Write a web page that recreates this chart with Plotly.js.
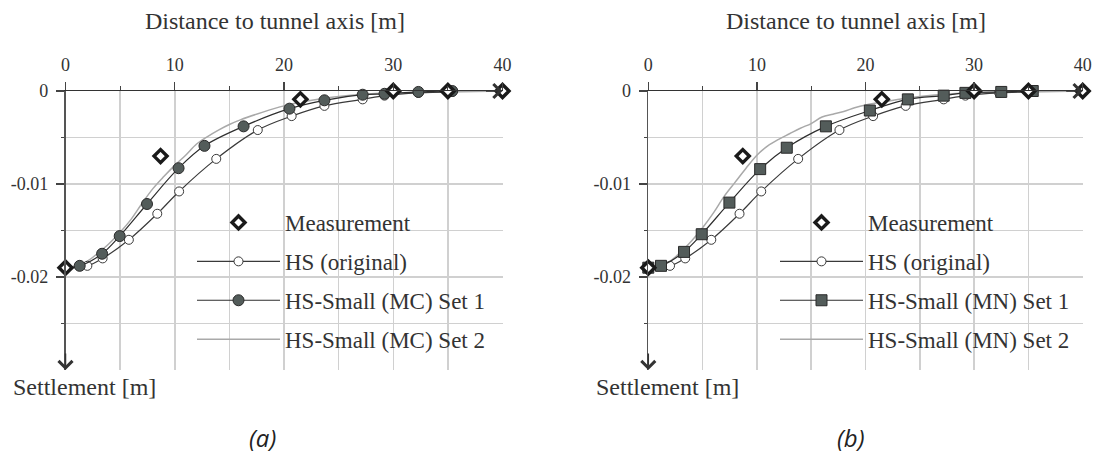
<!DOCTYPE html>
<html><head><meta charset="utf-8">
<script src="https://cdn.plot.ly/plotly-3.0.1.min.js"></script>
<style>body{margin:0;background:#fff}#chart{width:1097px;height:453px}</style>
</head><body><div id="chart"></div>
<script>
// ---------- data ----------
const measX = [0, 8.7, 21.5, 30, 35, 40];
const measY = [-0.0190, -0.0070, -0.0009, 0, 0, 0];

const hsX = [0, 2.0, 3.4, 5.8, 8.4, 10.4, 13.8, 17.6, 20.7, 23.7, 27.2, 29.2, 32.3, 35.4];
const hsY = [-0.0190, -0.0188, -0.0180, -0.0160, -0.0132, -0.0108, -0.0073, -0.0042, -0.0027, -0.0016, -0.0009, -0.0005, -0.0002, -0.0001];

const mcSet1X = [0, 1.3, 3.35, 4.96, 7.46, 10.35, 12.72, 16.3, 20.5, 23.7, 27.2, 29.2, 32.3, 35.4];
const mcSet1Y = [-0.0190, -0.0188, -0.0175, -0.0156, -0.01215, -0.0083, -0.0059, -0.0038, -0.0019, -0.0010, -0.0004, -0.0003, -0.0001, 0];

const mcSet2X = [0, 1, 2, 3, 4, 5, 6, 7, 8, 9, 10, 11, 12, 13, 14, 15, 16, 18, 20, 22, 25, 28, 30, 35, 40];
const mcSet2Y = [-0.0190, -0.0188, -0.0183, -0.0174, -0.0164, -0.0152, -0.0138, -0.0121, -0.0105, -0.0092, -0.0080, -0.0069, -0.0057, -0.0049, -0.0042, -0.0036, -0.0031, -0.0023, -0.0016, -0.0011, -0.0006, -0.0003, -0.0002, -0.0001, 0];

const mnSet1X = [0, 1.17, 3.29, 4.92, 7.47, 10.3, 12.75, 16.35, 20.4, 23.9, 27.2, 29.2, 32.5, 35.4];
const mnSet1Y = [-0.0190, -0.0188, -0.0173, -0.0154, -0.0120, -0.0084, -0.0061, -0.0038, -0.0021, -0.0009, -0.0005, -0.0002, -0.0001, 0];

const mnSet2X = [0, 1, 2, 3, 4, 5, 6, 7, 8, 9, 10, 11, 12, 13, 14, 15, 16, 17, 18, 19, 20, 22, 25, 28, 30, 35, 40];
const mnSet2Y = [-0.0190, -0.0188, -0.0183, -0.0173, -0.0161, -0.0147, -0.0131, -0.0113, -0.0098, -0.0083, -0.0069, -0.0059, -0.0052, -0.0046, -0.0040, -0.0035, -0.0028, -0.0025, -0.0022, -0.0018, -0.0015, -0.0011, -0.0006, -0.0003, -0.0002, -0.0001, 0];

const xTickVals = [0, 10, 20, 30, 40];
const xTickText = ['0', '10', '20', '30', '40'];
const xMinorVals = [5, 15, 25, 35];
const yTickVals = [0, -0.01, -0.02];
const yTickText = ['0', '-0.01', '-0.02'];
const yMinorVals = [-0.005, -0.015, -0.025];
const xRange = [0, 40];
const yRange = [-0.03, 0];

const namesA = ['Measurement', 'HS (original)', 'HS-Small (MC) Set 1', 'HS-Small (MC) Set 2'];
const namesB = ['Measurement', 'HS (original)', 'HS-Small (MN) Set 1', 'HS-Small (MN) Set 2'];
const titleX = 'Distance to tunnel axis [m]';
const titleY = 'Settlement [m]';

// ---------- styles ----------
const W = 1097, H = 453;
const px = v => v / W, py = v => 1 - v / H;
const serif = 'Liberation Serif';
const txt = '#333';
const gridC = '#d0d0d0';
const set1Fill = '#535c5a';

function traces(xa, ya, lg, pfx, names, s1x, s1y, s1sym, s2x, s2y) {
  return [
    {x: s2x, y: s2y, name: names[3], mode: 'lines', line: {color: '#a9a9a9', width: 1.5, shape: 'spline', smoothing: 1},
     xaxis: xa, yaxis: ya, legend: lg, legendgroup: pfx + '4', legendrank: 4, cliponaxis: false},
    {x: hsX, y: hsY, name: names[1], mode: 'lines+markers', line: {color: '#3a3a3a', width: 1.2, shape: 'spline', smoothing: 1},
     marker: {symbol: 'circle', size: 9, color: '#fff', line: {color: '#3a3a3a', width: 1}},
     xaxis: xa, yaxis: ya, legend: lg, legendgroup: pfx + '2', legendrank: 2, cliponaxis: false},
    {x: s1x, y: s1y, name: names[2], mode: 'lines+markers', line: {color: '#2e2e2e', width: 1.2, shape: 'spline', smoothing: 1},
     marker: {symbol: s1sym, size: 11, color: set1Fill, line: {color: '#2a2a2a', width: 1}},
     xaxis: xa, yaxis: ya, legend: lg, legendgroup: pfx + '3', legendrank: 3, cliponaxis: false},
    {x: measX, y: measY, name: names[0], mode: 'markers',
     marker: {symbol: 'diamond', size: 10, color: '#fff', line: {color: '#1a1a1a', width: 3.4}},
     xaxis: xa, yaxis: ya, legend: lg, legendgroup: pfx + '1', legendrank: 1, cliponaxis: false}
  ];
}

const data = [].concat(
  traces('x', 'y', 'legend', 'a', namesA, mcSet1X, mcSet1Y, 'circle', mcSet2X, mcSet2Y),
  traces('x2', 'y2', 'legend2', 'b', namesB, mnSet1X, mnSet1Y, 'square', mnSet2X, mnSet2Y)
);

function xaxis(domain, anchor) {
  return {domain: domain, anchor: anchor, range: xRange, side: 'top',
    tickmode: 'array', tickvals: xTickVals, ticktext: xTickText,
    ticks: 'outside', ticklen: 8, tickwidth: 1.3, tickcolor: '#444', ticklabelstandoff: 3,
    showline: true, linecolor: '#333', linewidth: 1.4,
    showgrid: true, gridcolor: gridC, gridwidth: 1.5, zeroline: false,
    tickfont: {family: serif, size: 18, color: txt},
    minor: {tickmode: 'array', tickvals: xMinorVals, ticks: 'outside', ticklen: 4, tickwidth: 1.2, tickcolor: '#444',
            showgrid: true, gridcolor: gridC, gridwidth: 1.5},
    fixedrange: true};
}
function yaxis(domain, anchor) {
  return {domain: domain, anchor: anchor, range: yRange,
    tickmode: 'array', tickvals: yTickVals, ticktext: yTickText,
    ticks: 'outside', ticklen: 8, tickwidth: 1.3, tickcolor: '#444', ticklabelstandoff: 4,
    showline: true, linecolor: '#555', linewidth: 1.6,
    showgrid: true, gridcolor: gridC, gridwidth: 1.5, zeroline: false,
    tickfont: {family: serif, size: 18, color: txt},
    minor: {tickmode: 'array', tickvals: yMinorVals, ticks: 'outside', ticklen: 3, tickwidth: 1.2, tickcolor: '#444',
            showgrid: true, gridcolor: gridC, gridwidth: 1.5},
    fixedrange: true};
}

function legend(xpx) {
  return {x: px(xpx), y: py(201), xanchor: 'left', yanchor: 'top', bgcolor: 'rgba(0,0,0,0)',
    font: {family: serif, size: 23, color: txt}, itemwidth: 83, tracegroupgap: 6, traceorder: 'grouped'};
}

function arrows(xr, yr) {
  return [
    {x: xRange[0], y: yRange[0], xref: xr, yref: yr, text: '', showarrow: true, ax: 0, ay: -18,
     arrowhead: 4, arrowsize: 1.8, arrowwidth: 1.5, arrowcolor: '#333'},
    {x: xRange[1], y: yRange[1], xref: xr, yref: yr, text: '', showarrow: true, ax: -18, ay: 0,
     arrowhead: 4, arrowsize: 1.8, arrowwidth: 1.5, arrowcolor: '#333'}
  ];
}

function label(text, xpx, ypx, anchor, font) {
  return {text: text, x: px(xpx), y: py(ypx), xref: 'paper', yref: 'paper', xanchor: anchor, yanchor: 'middle',
    showarrow: false, font: font};
}

const layout = {
  width: W, height: H, margin: {l: 0, r: 0, t: 0, b: 0},
  font: {family: serif, size: 18, color: txt},
  paper_bgcolor: '#fff', plot_bgcolor: 'rgba(0,0,0,0)',
  xaxis: xaxis([px(65.5), px(502.5)], 'y'),
  yaxis: yaxis([py(370), py(91)], 'x'),
  xaxis2: xaxis([px(648.3), px(1082.7)], 'y2'),
  yaxis2: yaxis([py(370), py(91)], 'x2'),
  legend: legend(192),
  legend2: legend(775),
  annotations: [].concat(
    arrows('x', 'y'), arrows('x2', 'y2'),
    [
      label(titleX, 275, 21, 'center', {family: serif, size: 24, color: txt}),
      label(titleX, 856, 21, 'center', {family: serif, size: 24, color: txt}),
      label(titleY, 11, 387, 'left', {family: serif, size: 24, color: txt}),
      label(titleY, 594, 387, 'left', {family: serif, size: 24, color: txt}),
      label('<i>(a)</i>', 262, 437, 'center', {family: 'Open Sans', size: 24, color: '#222'}),
      label('<i>(b)</i>', 851, 437, 'center', {family: 'Open Sans', size: 24, color: '#222'})
    ]
  ),
  hovermode: false
};

Plotly.newPlot('chart', data, layout, {staticPlot: true, displayModeBar: false});
</script>
</body></html>
